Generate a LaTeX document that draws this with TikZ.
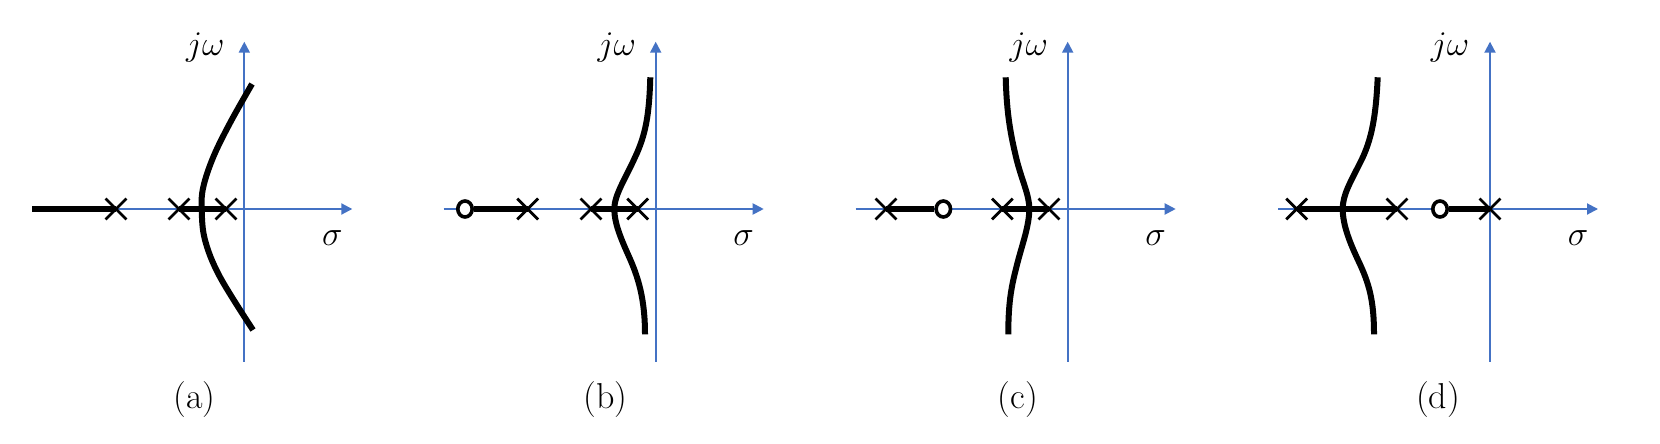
\documentclass[tikz,border=0pt]{standalone}
\usetikzlibrary{arrows.meta,shapes.misc}
\definecolor{axisblue}{RGB}{68,114,196}
\tikzset{
  axis/.style={draw=axisblue, line width=1pt, -{Triangle[length=5.5pt,width=5.5pt]}},
  locus/.style={line width=3pt, line cap=butt},
  curvelocus/.style={line width=3pt, line cap=butt},
  pole/.style={cross out, draw, minimum size=9pt, inner sep=0pt, line width=1.4pt},
  zero/.style={ellipse, draw, fill=white, minimum width=7.2pt, minimum height=8pt, inner sep=0pt, line width=1.8pt},
  lbl/.style={inner sep=0pt, font=\fontsize{18}{21}\selectfont},
}
\usetikzlibrary{shapes.geometric}
\begin{document}
\begin{tikzpicture}[x=0.5pt,y=-0.5pt]
\useasboundingbox (0,0) rectangle (1660,444);

% ---------- (a) ----------
\begin{scope}[shift={(244.3,0)}]
  \coordinate (aL) at (-212,209);
  \coordinate (aR) at (108,209);
  \coordinate (aB) at (0,361.7);
  \coordinate (aT) at (0,41.7);
  \draw[axis] (aL) -- (aR);
  \draw[axis] (aB) -- (aT);
  \node[pole] (ap1) at (-128.3,209) {};
  \node[pole] (ap2) at (-65.3,209) {};
  \node[pole] (ap3) at (-18.3,209) {};
  \draw[locus] (aL) -- (ap1.center);
  \draw[locus] (ap2.center) -- (ap3.center);
  \draw[curvelocus, smooth, tension=0.6] plot coordinates {(7.7,84) (-14.3,123) (-31,157) (-41,187) (-42.6,209) (-39.3,240) (-24.3,277) (8.7,330)};
  \node[lbl] (ajw) at (-39,48) {$j\omega$};
  \node[lbl] (asig) at (88,238) {$\sigma$};
  \node[lbl] (acap) at (-50,400) {(a)};
\end{scope}

% ---------- (b) ----------
\begin{scope}[shift={(655.7,0)}]
  \coordinate (bL) at (-212,209);
  \coordinate (bR) at (108,209);
  \coordinate (bB) at (0,361.7);
  \coordinate (bT) at (0,41.7);
  \draw[axis] (bL) -- (bR);
  \draw[axis] (bB) -- (bT);
  \node[zero] (bz) at (-190.7,209) {};
  \node[pole] (bp1) at (-128,209) {};
  \node[pole] (bp2) at (-64.7,209) {};
  \node[pole] (bp3) at (-18,209) {};
  \draw[locus] (bz) -- (bp1.center);
  \draw[locus] (bp2.center) -- (bp3.center);
  \draw[curvelocus] (-5.4,77.3) .. controls (-6.5,115) and (-10,135) .. (-21,158)
      .. controls (-30,178) and (-41.4,195) .. (-41.4,209)
      .. controls (-41.4,223) and (-35,238) .. (-27,256)
      .. controls (-17,278) and (-10.7,300) .. (-10.7,334.3);
  \node[lbl] (bjw) at (-39,48) {$j\omega$};
  \node[lbl] (bsig) at (88,238) {$\sigma$};
  \node[lbl] (bcap) at (-50,400) {(b)};
\end{scope}

% ---------- (c) ----------
\begin{scope}[shift={(1067.7,0)}]
  \coordinate (cL) at (-212,209);
  \coordinate (cR) at (108,209);
  \coordinate (cB) at (0,361.7);
  \coordinate (cT) at (0,41.7);
  \draw[axis] (cL) -- (cR);
  \draw[axis] (cB) -- (cT);
  \node[pole] (cp1) at (-181.7,209) {};
  \node[zero] (cz) at (-124.4,209) {};
  \node[pole] (cp2) at (-65.4,209) {};
  \node[pole] (cp3) at (-18.7,209) {};
  \draw[locus] (cp1.center) -- (cz);
  \draw[locus] (cp2.center) -- (cp3.center);
  \draw[curvelocus] (-62,77.3) .. controls (-61,115) and (-57,135) .. (-51,160)
      .. controls (-45,183) and (-38.4,195) .. (-38.4,209)
      .. controls (-38.4,225) and (-45,243) .. (-50,262)
      .. controls (-56,285) and (-59.4,300) .. (-59.4,334.3);
  \node[lbl] (cjw) at (-39,48) {$j\omega$};
  \node[lbl] (csig) at (88,238) {$\sigma$};
  \node[lbl] (ccap) at (-50,400) {(c)};
\end{scope}

% ---------- (d) ----------
\begin{scope}[shift={(1490,0)}]
  \coordinate (dL) at (-212,209);
  \coordinate (dR) at (108,209);
  \coordinate (dB) at (0,361.7);
  \coordinate (dT) at (0,41.7);
  \draw[axis] (dL) -- (dR);
  \draw[axis] (dB) -- (dT);
  \node[pole] (dp1) at (-193.3,209) {};
  \node[pole] (dp2) at (-93,209) {};
  \node[zero] (dz) at (-50,209) {};
  \node[pole] (dp3) at (0,209) {};
  \draw[locus] (dp1.center) -- (dp2.center);
  \draw[locus] (dz) -- (dp3.center);
  \draw[curvelocus] (-112.3,77.3) .. controls (-114,115) and (-118,140) .. (-130,163)
      .. controls (-140,183) and (-147.3,195) .. (-147.3,209)
      .. controls (-147.3,225) and (-140,243) .. (-132,260)
      .. controls (-121,283) and (-116,300) .. (-116,334.3);
  \node[lbl] (djw) at (-40,48) {$j\omega$};
  \node[lbl] (dsig) at (88,238) {$\sigma$};
  \node[lbl] (dcap) at (-52,400) {(d)};
\end{scope}
\end{tikzpicture}
\end{document}
